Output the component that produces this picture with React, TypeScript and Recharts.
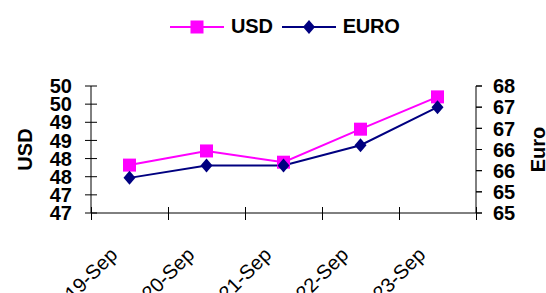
import React from 'react';
import { LineChart, Line, XAxis, YAxis } from 'recharts';

const dates = ['19-Sep', '20-Sep', '21-Sep', '22-Sep', '23-Sep'];
const usdValues = [47.82, 48.21, 47.9, 48.81, 49.7];
const euroValues = [65.33, 65.62, 65.62, 66.1, 67.0];
const usdTicks = [46.5, 47, 47.5, 48, 48.5, 49, 49.5, 50];
const euroTicks = [64.5, 65, 65.5, 66, 66.5, 67, 67.5];

const data = dates.map((date, i) => ({ date, usd: usdValues[i], euro: euroValues[i] }));

const FONT = '"Liberation Sans", Arial, sans-serif';
const MAGENTA = '#FF00FF';
const NAVY = '#000080';

const SquareDot = ({ cx, cy }: any) => (
  <rect x={cx - 6.5} y={cy - 6.5} width={13} height={13} fill={MAGENTA} />
);

const DiamondDot = ({ cx, cy }: any) => (
  <path d={`M${cx},${cy - 7} L${cx + 6},${cy} L${cx},${cy + 7} L${cx - 6},${cy} Z`} fill={NAVY} />
);

const LeftTick = ({ x, y, payload }: any) => (
  <g>
    <line x1={x + 19} x2={x + 25} y1={y} y2={y} stroke="#000" />
    <text x={x} y={y} dy="0.36em" textAnchor="end" fontFamily={FONT} fontWeight="bold" fontSize={20} fill="#000">
      {Math.round(payload.value)}
    </text>
  </g>
);

const RightTick = ({ x, y, payload }: any) => (
  <g>
    <line x1={x - 17} x2={x - 11} y1={y} y2={y} stroke="#000" />
    <text x={x} y={y} dy="0.36em" textAnchor="start" fontFamily={FONT} fontWeight="bold" fontSize={20} fill="#000">
      {Math.round(payload.value)}
    </text>
  </g>
);

// category labels, plus tick marks on the band edges like Excel draws them
const DateTick = ({ x, y, payload, index }: any) => {
  const half = payload.offset || 0;
  const left = Math.round(x - half) + 0.5;
  const right = Math.round(x + half) + 0.5;
  return (
    <g>
      <path d={`M${left},${y - 6}V${y + 7}`} stroke="#000" strokeWidth={1} fill="none" />
      {index === dates.length - 1 && <path d={`M${right},${y - 6}V${y + 7}`} stroke="#000" strokeWidth={1} fill="none" />}
      <text
        transform={`translate(${x - 11},${y + 43}) rotate(-45)`}
        textAnchor="end"
        fontFamily={FONT}
        fontSize={20}
        fill="#000"
      >
        {payload.value}
      </text>
    </g>
  );
};

const AxisTitle = ({ viewBox, value, dx }: any) => {
  const cx = viewBox.x + dx;
  const cy = viewBox.y + viewBox.height / 2;
  return (
    <text
      x={cx}
      y={cy}
      transform={`rotate(-90 ${cx} ${cy})`}
      textAnchor="middle"
      dominantBaseline="central"
      fontFamily={FONT}
      fontWeight="bold"
      fontSize={20}
      fill="#000"
    >
      {value}
    </text>
  );
};

const LegendItem = ({ color, label, marker }: { color: string; label: string; marker: 'square' | 'diamond' }) => (
  <div style={{ display: 'flex', alignItems: 'center', marginRight: 9 }}>
    <svg width={54} height={16}>
      <line x1={0} x2={54} y1={8} y2={8} stroke={color} strokeWidth={2} />
      {marker === 'square' ? (
        <rect x={20.5} y={1.5} width={13} height={13} fill={color} />
      ) : (
        <path d="M27,1 L33,8 L27,15 L21,8 Z" fill={color} />
      )}
    </svg>
    <span style={{ marginLeft: 7, fontFamily: FONT, fontWeight: 'bold', fontSize: 20, letterSpacing: -0.2 }}>{label}</span>
  </div>
);

export default function App() {
  return (
    <div style={{ position: 'absolute', left: 0, top: 0, width: 546, height: 293, background: '#fff' }}>
      <div style={{ position: 'absolute', left: 170, top: 15, display: 'flex', alignItems: 'center' }}>
        <LegendItem color={MAGENTA} label="USD" marker="square" />
        <LegendItem color={NAVY} label="EURO" marker="diamond" />
      </div>
      <LineChart width={546} height={293} data={data} margin={{ top: 86, right: 0, bottom: 0, left: 0 }}>
        <XAxis
          dataKey="date"
          scale="band"
          height={80}
          interval={0}
          tickLine={false}
          tickSize={0}
          tickMargin={0}
          axisLine={{ stroke: '#000' }}
          tick={<DateTick />}
        />
        <YAxis
          yAxisId="usd"
          width={91}
          domain={[46.5, 50]}
          ticks={usdTicks}
          interval={0}
          tickSize={6}
          tickMargin={13}
          axisLine={{ stroke: '#000' }}
          tickLine={{ stroke: '#000' }}
          tick={<LeftTick />}
          label={<AxisTitle value="USD" dx={25} />}
        />
        <YAxis
          yAxisId="euro"
          orientation="right"
          width={70}
          domain={[64.5, 67.5]}
          ticks={euroTicks}
          interval={0}
          tickSize={6}
          tickMargin={11}
          axisLine={{ stroke: '#000' }}
          tickLine={{ stroke: '#000' }}
          tick={<RightTick />}
          label={<AxisTitle value="Euro" dx={62} />}
        />
        <Line
          yAxisId="usd"
          dataKey="usd"
          name="USD"
          stroke={MAGENTA}
          strokeWidth={2}
          dot={<SquareDot />}
          activeDot={false}
          isAnimationActive={false}
        />
        <Line
          yAxisId="euro"
          dataKey="euro"
          name="EURO"
          stroke={NAVY}
          strokeWidth={2}
          dot={<DiamondDot />}
          activeDot={false}
          isAnimationActive={false}
        />
      </LineChart>
    </div>
  );
}
